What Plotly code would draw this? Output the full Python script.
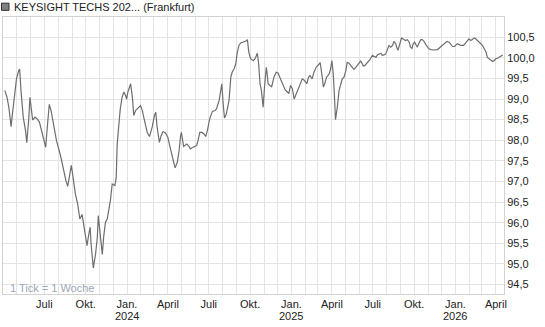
import pandas as pd
import plotly.graph_objects as go

# Day offsets relative to 2024-01-01 and prices
base_date = "2024-01-01"
day_offsets = [
    -272, -267, -263, -258, -255, -252, -249, -246, -241, -239,
    -236, -231, -226, -223, -219, -216, -213, -210, -205, -200,
    -195, -189, -183, -181, -178, -173, -169, -163, -157, -148,
    -141, -136, -132, -128, -124, -120, -115, -110, -105, -100,
    -96, -92, -89, -85, -82, -80, -77, -75, -70, -66,
    -64, -61, -58, -55, -52, -48, -44, -41, -37, -33,
    -27, -24, -22, -18, -15, -11, -7, -3, -1, 2,
    5, 8, 12, 15, 19, 26, 30, 34, 39, 45,
    50, 56, 61, 64, 67, 72, 76, 80, 86, 91,
    95, 101, 104, 107, 112, 116, 119, 121, 126, 133,
    138, 141, 147, 155, 158, 162, 167, 171, 175, 179,
    184, 190, 196, 199, 205, 208, 211, 214, 217, 221,
    225, 227, 231, 234, 238, 242, 245, 249, 253, 259,
    264, 268, 271, 275, 281, 285, 290, 293, 296, 299,
    301, 303, 306, 310, 312, 314, 318, 322, 327, 332,
    336, 342, 346, 352, 357, 360, 364, 368, 372, 375,
    381, 386, 390, 395, 400, 404, 407, 412, 416, 421,
    427, 430, 435, 437, 440, 444, 450, 453, 456, 459,
    461, 463, 464, 468, 472, 476, 479, 483, 487, 490,
    494, 498, 502, 505, 509, 514, 520, 524, 526, 529,
    535, 541, 546, 550, 554, 557, 561, 565, 568, 572,
    576, 579, 583, 587, 591, 594, 598, 600, 603, 605,
    609, 611, 617, 620, 624, 628, 631, 634, 637, 640,
    644, 646, 650, 654, 657, 661, 665, 669, 672, 676,
    683, 691, 698, 706, 712, 717, 721, 724, 728, 732,
    735, 739, 743, 749, 752, 756, 761, 765, 769, 773,
    776, 780, 784, 787, 791, 795, 799, 802, 806, 810,
    814, 817, 821, 825, 828, 832, 836,
]
prices = [
    99.21, 99.04, 98.80, 98.33, 98.64, 98.92, 99.13, 99.49, 99.69, 99.73,
    99.21, 98.56, 98.24, 97.94, 98.48, 99.04, 98.76, 98.49, 98.56, 98.52,
    98.44, 98.19, 97.95, 97.83, 98.24, 98.87, 98.72, 98.32, 97.99, 97.63,
    97.26, 97.02, 96.88, 97.18, 97.39, 97.10, 96.70, 96.46, 96.09, 96.20,
    95.89, 95.65, 95.44, 95.73, 95.89, 95.49, 95.08, 94.90, 95.24, 95.65,
    96.17, 95.81, 95.49, 95.23, 95.65, 96.01, 96.09, 96.25, 96.54, 96.94,
    96.90, 97.10, 97.87, 98.40, 98.76, 99.04, 99.17, 99.08, 99.00, 99.17,
    99.29, 99.37, 99.04, 98.60, 98.72, 98.80, 98.84, 98.72, 98.44, 98.19,
    98.09, 98.32, 98.60, 98.68, 98.32, 97.95, 98.11, 98.21, 98.17, 98.07,
    97.87, 97.59, 97.43, 97.33, 97.47, 97.75, 98.09, 98.19, 97.85, 97.91,
    97.85, 97.79, 97.83, 97.87, 97.99, 98.19, 98.19, 98.16, 98.09, 98.24,
    98.52, 98.70, 98.72, 98.76, 98.96, 99.21, 99.37, 98.88, 98.54, 98.64,
    98.84, 98.96, 99.53, 99.65, 99.73, 99.85, 100.10, 100.30, 100.36, 100.38,
    100.40, 100.44, 100.14, 99.98, 99.93, 99.98, 100.11, 99.85, 99.37, 99.21,
    99.00, 98.80, 99.29, 99.77, 99.61, 99.37, 99.33, 99.30, 99.53, 99.65,
    99.63, 99.49, 99.37, 99.22, 99.17, 99.13, 99.33, 99.25, 99.00, 99.08,
    99.25, 99.41, 99.49, 99.45, 99.37, 99.53, 99.57, 99.49, 99.65, 99.77,
    99.85, 99.88, 99.49, 99.29, 99.37, 99.53, 99.61, 99.73, 99.93, 99.61,
    99.21, 98.80, 98.50, 98.80, 99.21, 99.37, 99.49, 99.53, 99.69, 99.89,
    99.87, 99.81, 99.75, 99.72, 99.77, 99.85, 99.92, 99.85, 99.80, 99.81,
    99.88, 99.96, 100.06, 100.04, 100.01, 100.07, 100.10, 100.11, 100.06, 100.07,
    100.10, 100.18, 100.30, 100.26, 100.30, 100.40, 100.34, 100.26, 100.18, 100.26,
    100.38, 100.48, 100.44, 100.42, 100.44, 100.38, 100.26, 100.23, 100.34, 100.38,
    100.30, 100.26, 100.36, 100.44, 100.44, 100.40, 100.32, 100.26, 100.22, 100.20,
    100.19, 100.20, 100.26, 100.34, 100.40, 100.38, 100.32, 100.28, 100.27, 100.30,
    100.34, 100.32, 100.30, 100.30, 100.34, 100.42, 100.46, 100.42, 100.44, 100.48,
    100.46, 100.42, 100.38, 100.34, 100.30, 100.22, 100.14, 100.01, 99.98, 99.95,
    99.91, 99.93, 99.98, 99.99, 100.01, 100.04, 100.07,
]

tick_dates = [
    "2023-07-01", "2023-10-01", "2024-01-01", "2024-04-01",
    "2024-07-01", "2024-10-01", "2025-01-01", "2025-04-01",
    "2025-07-01", "2025-10-01", "2026-01-01", "2026-04-01",
]
tick_labels = [
    "Juli", "Okt.", "Jan.", "April",
    "Juli", "Okt.", "Jan.", "April",
    "Juli", "Okt.", "Jan.", "April",
]
year_dates = ["2024-01-01", "2025-01-01", "2026-01-01"]
year_labels = ["2024", "2025", "2026"]
series_name = "KEYSIGHT TECHS 202... (Frankfurt)"
note_text = "1 Tick = 1 Woche"

dates = pd.Timestamp(base_date) + pd.to_timedelta(day_offsets, unit="D")

fig = go.Figure()
fig.add_trace(go.Scatter(
    x=dates, y=prices, mode="lines",
    line=dict(color="#6e6e6e", width=1.2),
    showlegend=False, hoverinfo="skip",
))

font_main = dict(family="Liberation Sans, Arial, sans-serif", size=11, color="#222222")
grid_col = "#e4e4e4"

annotations = [
    dict(text=series_name, xref="paper", yref="paper",
         x=0.018, y=1.037, xanchor="left", yanchor="middle",
         showarrow=False, font=font_main),
    dict(text=note_text, xref="paper", yref="paper",
         x=0.01, y=0.022, xanchor="left", yanchor="middle",
         showarrow=False,
         font=dict(family="Liberation Sans, Arial, sans-serif", size=11, color="#9ba6b8")),
]
for d, lab in zip(year_dates, year_labels):
    annotations.append(dict(text=lab, x=d, xref="x", yref="paper", y=-0.079,
                            xanchor="center", yanchor="middle",
                            showarrow=False, font=font_main))

fig.update_layout(
    width=545, height=327,
    margin=dict(l=3, r=41, t=17, b=33),
    paper_bgcolor="white", plot_bgcolor="white",
    separators=",.",
    font=font_main,
    showlegend=False,
    xaxis=dict(
        type="date",
        range=["2023-03-31", "2026-04-19"],
        tickmode="array", tickvals=tick_dates, ticktext=tick_labels,
        showgrid=True, gridcolor=grid_col, gridwidth=1,
        ticks="", tickfont=font_main, ticklabelstandoff=0,
        minor=dict(dtick="M1", tick0="2023-04-01", showgrid=True,
                   gridcolor=grid_col, gridwidth=1, ticks=""),
        showline=True, linecolor="#d2d2d2", linewidth=1, mirror=True,
        zeroline=False, fixedrange=True,
    ),
    yaxis=dict(
        side="right",
        range=[94.27, 100.99],
        tick0=94.5, dtick=0.5, tickformat=".1f",
        showgrid=True, gridcolor=grid_col, gridwidth=1,
        ticks="", tickfont=font_main,
        showline=True, linecolor="#d2d2d2", linewidth=1, mirror=True,
        zeroline=False, fixedrange=True,
    ),
    shapes=[dict(
        type="rect", xref="paper", yref="paper",
        x0=-0.003, x1=0.012, y0=1.024, y1=1.050,
        fillcolor="#808080", line=dict(color="#333333", width=1),
    )],
    annotations=annotations,
)

fig.write_html("out.html")
